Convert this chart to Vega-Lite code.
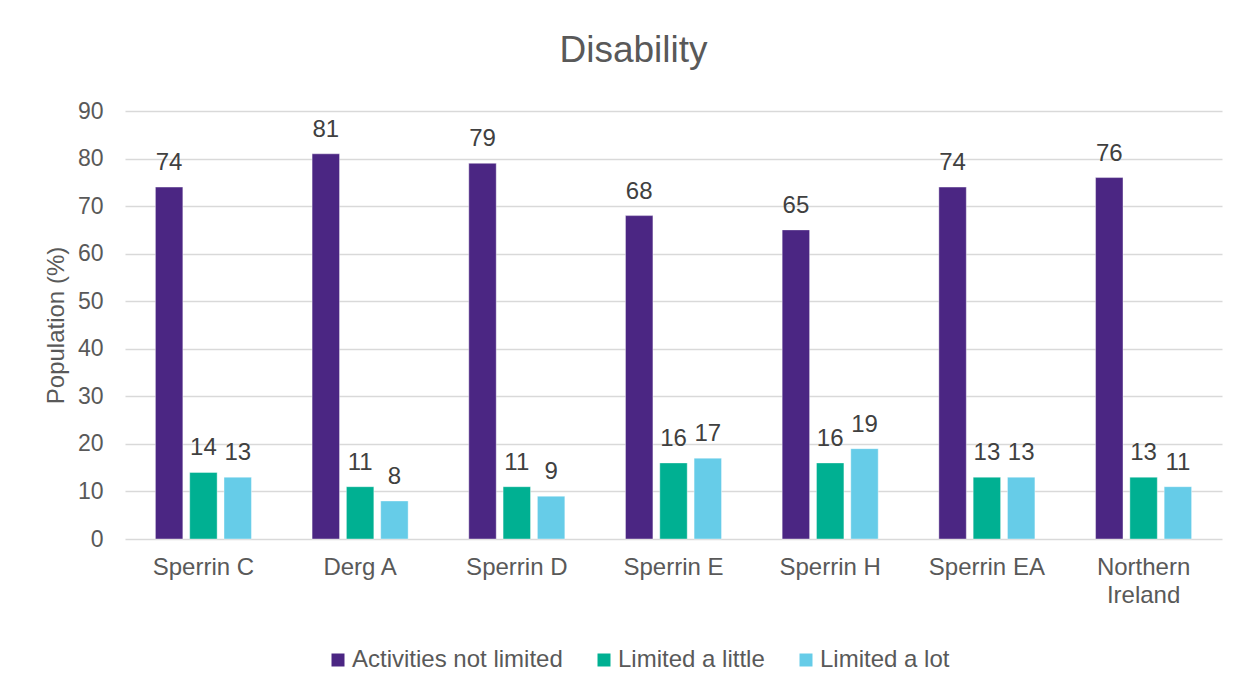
{
  "$schema": "https://vega.github.io/schema/vega-lite/v6.json",
  "autosize": {"type": "none"},
  "width": 1097,
  "height": 428,
  "padding": {"left": 125, "top": 111, "right": 36, "bottom": 151},
  "background": "white",
  "config": {
    "font": "Liberation Sans",
    "view": {"stroke": null}
  },
  "title": {
    "text": "Disability",
    "fontSize": 37,
    "fontWeight": "normal",
    "font": "Liberation Sans",
    "color": "#595959",
    "anchor": "middle",
    "dx": -40,
    "offset": 30
  },
  "data": {
    "values": [
      {"area": "Sperrin C", "series": "Activities not limited", "value": 74},
      {"area": "Sperrin C", "series": "Limited a little", "value": 14},
      {"area": "Sperrin C", "series": "Limited a lot", "value": 13},
      {"area": "Derg A", "series": "Activities not limited", "value": 81},
      {"area": "Derg A", "series": "Limited a little", "value": 11},
      {"area": "Derg A", "series": "Limited a lot", "value": 8},
      {"area": "Sperrin D", "series": "Activities not limited", "value": 79},
      {"area": "Sperrin D", "series": "Limited a little", "value": 11},
      {"area": "Sperrin D", "series": "Limited a lot", "value": 9},
      {"area": "Sperrin E", "series": "Activities not limited", "value": 68},
      {"area": "Sperrin E", "series": "Limited a little", "value": 16},
      {"area": "Sperrin E", "series": "Limited a lot", "value": 17},
      {"area": "Sperrin H", "series": "Activities not limited", "value": 65},
      {"area": "Sperrin H", "series": "Limited a little", "value": 16},
      {"area": "Sperrin H", "series": "Limited a lot", "value": 19},
      {"area": "Sperrin EA", "series": "Activities not limited", "value": 74},
      {"area": "Sperrin EA", "series": "Limited a little", "value": 13},
      {"area": "Sperrin EA", "series": "Limited a lot", "value": 13},
      {"area": "Northern Ireland", "series": "Activities not limited", "value": 76},
      {"area": "Northern Ireland", "series": "Limited a little", "value": 13},
      {"area": "Northern Ireland", "series": "Limited a lot", "value": 11}
    ]
  },
  "encoding": {
    "x": {
      "field": "area",
      "type": "nominal",
      "sort": ["Sperrin C", "Derg A", "Sperrin D", "Sperrin E", "Sperrin H", "Sperrin EA", "Northern Ireland"],
      "scale": {"paddingInner": 0.387, "paddingOuter": 0.194},
      "axis": {
        "title": null,
        "labelAngle": 0,
        "labelFontSize": 24,
        "labelColor": "#595959",
        "labelPadding": 16,
        "labelLineHeight": 28,
        "labelLimit": 300,
        "labelExpr": "datum.label == 'Northern Ireland' ? ['Northern', 'Ireland'] : datum.label",
        "ticks": false,
        "domain": false,
        "grid": false
      }
    },
    "xOffset": {
      "field": "series",
      "type": "nominal",
      "sort": ["Activities not limited", "Limited a little", "Limited a lot"],
      "scale": {"paddingInner": 0.2, "paddingOuter": 0}
    },
    "y": {
      "field": "value",
      "type": "quantitative",
      "scale": {"domain": [0, 90], "nice": false},
      "axis": {
        "title": "Population (%)",
        "titleFontSize": 24,
        "titleFontWeight": "normal",
        "titleColor": "#595959",
        "titlePadding": 9,
        "values": [0, 10, 20, 30, 40, 50, 60, 70, 80, 90],
        "labelFontSize": 23,
        "labelColor": "#595959",
        "labelPadding": 22,
        "ticks": false,
        "domain": false,
        "gridColor": "#d9d9d9",
        "gridWidth": 1.3
      }
    }
  },
  "layer": [
    {
      "mark": {"type": "bar", "stroke": "white", "strokeWidth": 1, "strokeOpacity": 0.4},
      "encoding": {
        "color": {
          "field": "series",
          "type": "nominal",
          "sort": ["Activities not limited", "Limited a little", "Limited a lot"],
          "scale": {
            "domain": ["Activities not limited", "Limited a little", "Limited a lot"],
            "range": ["#4B2683", "#00B092", "#66CCE8"]
          },
          "legend": {
            "title": null,
            "orient": "none",
            "direction": "horizontal",
            "legendX": 201,
            "legendY": 537,
            "symbolType": "square",
            "symbolSize": 169,
            "symbolStrokeWidth": 0,
            "labelFontSize": 24,
            "labelColor": "#595959",
            "labelLimit": 400,
            "labelOffset": 2,
            "columnPadding": 29
          }
        }
      }
    },
    {
      "mark": {"type": "text", "dy": -17, "fontSize": 24, "color": "#404040", "baseline": "alphabetic"},
      "encoding": {
        "text": {"field": "value", "type": "quantitative"}
      }
    }
  ]
}
